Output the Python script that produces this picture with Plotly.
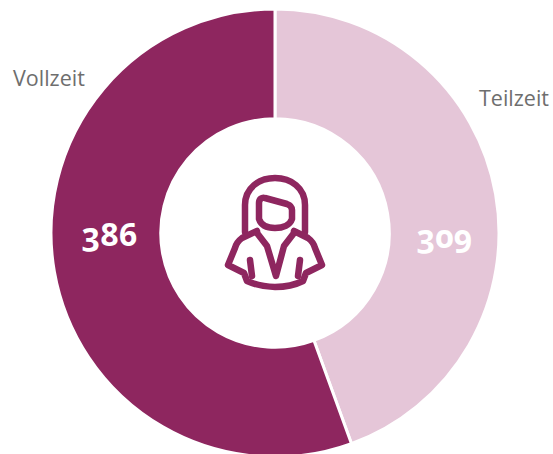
import plotly.graph_objects as go

categories = ["Teilzeit", "Vollzeit"]
values = [309, 386]
colors = ["#E5C6D8", "#8E265F"]
W, H = 553, 460
ICON = "#8E265F"

fig = go.Figure(go.Pie(
    labels=categories, values=values, sort=False, direction="clockwise", rotation=0,
    hole=0.51, textinfo="none", hoverinfo="label+value",
    marker=dict(colors=colors, line=dict(color="white", width=3)),
    domain=dict(x=[51 / W, 499 / W], y=[(H - 457) / H, (H - 9) / H]),
    showlegend=False,
))

icon_paths = [
    # hair
    "M 245 232 L 245 205 C 245 188 259 178 275 178 C 291 178 305 188 305 205 L 305 232",
    # face
    "M 259 203 C 259 199 262 197 265 198 L 287 204 C 290 205 292 207 292 210 L 292 219 "
    "C 290 225 283 228 275 228 C 267 228 261 225 259 219 Z",
    # body
    "M 257 231 L 242 238 C 238 241 236 244 235 248 L 228 265 L 244 273 L 247 281 "
    "C 256 285 265 287 275 287 C 285 287 295 285 303 281 L 306 273 L 322 265 L 315 248 "
    "C 314 244 312 241 308 238 L 294 231",
    # collar
    "M 257 233 L 267 246 L 276 276 L 284 246 L 294 233",
    # arms
    "M 250 260 L 252 276",
    "M 300 260 L 298 276",
]
shapes = [dict(type="path", path=p, xref="x", yref="y",
               line=dict(color=ICON, width=6.5), fillcolor="rgba(0,0,0,0)")
          for p in icon_paths]

FONT = "Open Sans"
annotations = [
    dict(x=49, y=77, text=categories[1], font=dict(family=FONT, size=21.5, color="#6E6E6E")),
    dict(x=513.5, y=97, text=categories[0], font=dict(family=FONT, size=21.5, color="#6E6E6E")),
    dict(x=109, y=233, text=f"<b>{values[1]}</b>", font=dict(family=FONT, size=32, color="white")),
    dict(x=444, y=235, text=f"<b>{values[0]}</b>", font=dict(family=FONT, size=32, color="white")),
]
for a in annotations:
    a.update(xref="x", yref="y", showarrow=False, xanchor="center", yanchor="middle")

fig.update_layout(
    width=W, height=H, margin=dict(l=0, r=0, t=0, b=0),
    paper_bgcolor="white", plot_bgcolor="rgba(0,0,0,0)",
    xaxis=dict(range=[0, W], visible=False, fixedrange=True),
    yaxis=dict(range=[H, 0], visible=False, fixedrange=True),
    shapes=shapes, annotations=annotations,
)
post = """
var s = document.createElement('style');
s.textContent = "html,body{margin:0;padding:0;overflow:hidden;height:454px}"
 + ".annotation-text{font-feature-settings:'onum' 1;font-variant-numeric:oldstyle-nums}"
 + ".shapelayer path{stroke-linejoin:round;stroke-linecap:round}";
document.head.appendChild(s);
"""
fig.write_html("out.html", config=dict(displayModeBar=False), post_script=post)
